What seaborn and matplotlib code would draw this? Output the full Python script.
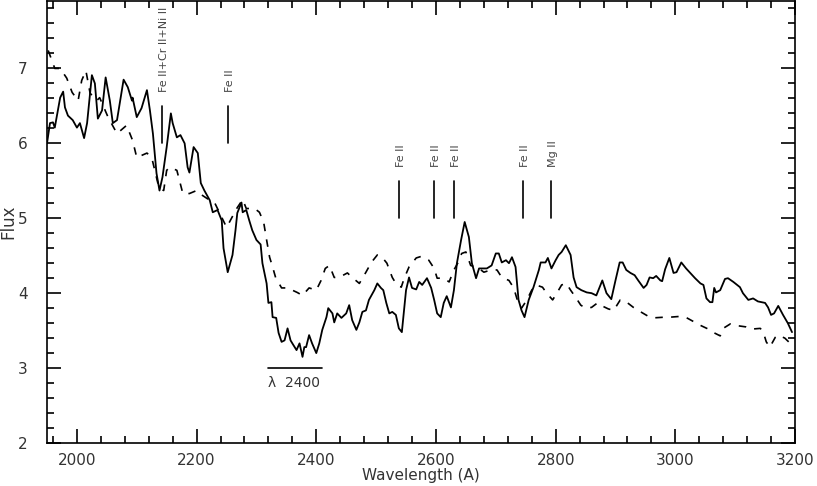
import matplotlib
matplotlib.use("Agg")
import matplotlib.pyplot as plt
import seaborn as sns
import pandas as pd
from matplotlib.ticker import MultipleLocator

# solid spectrum
wave_a = [1950, 1955, 1960, 1963, 1972, 1977, 1980, 1985, 1993, 2000, 2005, 2012, 2017, 2025, 2030,
          2035, 2042, 2048, 2055, 2060, 2067, 2078, 2085, 2092, 2093, 2100, 2108, 2117, 2122, 2127,
          2133, 2138, 2143, 2150, 2157, 2160, 2167, 2173, 2180, 2185, 2188, 2195, 2202, 2207, 2213,
          2222, 2227, 2235, 2242, 2245, 2252, 2260, 2265, 2268, 2275, 2277, 2283, 2288, 2293, 2300,
          2307, 2310, 2317, 2320, 2325, 2327, 2333, 2337, 2342, 2347, 2352, 2357, 2360, 2367, 2372,
          2377, 2380, 2383, 2388, 2393, 2400, 2405, 2410, 2417, 2420, 2427, 2430, 2435, 2442, 2450,
          2455, 2460, 2467, 2472, 2477, 2483, 2488, 2497, 2502, 2508, 2512, 2517, 2522, 2527, 2533,
          2538, 2543, 2550, 2555, 2560, 2567, 2572, 2577, 2585, 2592, 2597, 2602, 2608, 2613, 2618,
          2625, 2630, 2635, 2642, 2648, 2655, 2660, 2667, 2672, 2677, 2685, 2693, 2700, 2705, 2710,
          2717, 2722, 2727, 2733, 2738, 2743, 2748, 2755, 2763, 2772, 2775, 2783, 2787, 2793, 2800,
          2805, 2810, 2817, 2825, 2830, 2835, 2843, 2852, 2860, 2868, 2878, 2885, 2893, 2900, 2907,
          2912, 2918, 2925, 2932, 2938, 2947, 2952, 2957, 2963, 2968, 2975, 2978, 2983, 2990, 2997,
          3002, 3010, 3018, 3025, 3033, 3042, 3047, 3052, 3058, 3062, 3065, 3068, 3075, 3083, 3088,
          3097, 3108, 3113, 3122, 3130, 3138, 3150, 3155, 3160, 3165, 3172, 3180, 3188, 3195]
flux_a = [6.00, 6.27, 6.28, 6.21, 6.61, 6.69, 6.48, 6.37, 6.31, 6.21, 6.27, 6.07, 6.27, 6.91, 6.80,
          6.33, 6.44, 6.88, 6.57, 6.27, 6.31, 6.85, 6.75, 6.57, 6.61, 6.35, 6.47, 6.71, 6.44, 6.13,
          5.60, 5.37, 5.55, 5.95, 6.40, 6.27, 6.08, 6.11, 6.00, 5.68, 5.61, 5.95, 5.87, 5.47, 5.37,
          5.24, 5.08, 5.11, 4.97, 4.60, 4.28, 4.51, 4.84, 5.07, 5.21, 5.08, 5.11, 4.97, 4.84, 4.71,
          4.65, 4.40, 4.13, 3.87, 3.88, 3.68, 3.67, 3.47, 3.35, 3.37, 3.53, 3.37, 3.33, 3.24, 3.33,
          3.15, 3.28, 3.28, 3.44, 3.33, 3.20, 3.33, 3.51, 3.68, 3.80, 3.73, 3.61, 3.73, 3.67, 3.73,
          3.84, 3.64, 3.51, 3.61, 3.75, 3.77, 3.91, 4.04, 4.13, 4.07, 4.04, 3.87, 3.73, 3.75, 3.71,
          3.53, 3.48, 4.04, 4.21, 4.07, 4.05, 4.15, 4.11, 4.20, 4.07, 3.91, 3.73, 3.68, 3.87, 3.96,
          3.81, 4.04, 4.40, 4.71, 4.95, 4.75, 4.40, 4.20, 4.33, 4.33, 4.33, 4.37, 4.53, 4.53, 4.41,
          4.44, 4.40, 4.48, 4.35, 3.91, 3.77, 3.68, 3.91, 4.08, 4.31, 4.41, 4.41, 4.47, 4.33, 4.44,
          4.51, 4.55, 4.64, 4.51, 4.21, 4.08, 4.04, 4.01, 4.00, 3.97, 4.17, 4.00, 3.92, 4.17, 4.41,
          4.41, 4.31, 4.27, 4.24, 4.17, 4.07, 4.11, 4.21, 4.20, 4.23, 4.17, 4.16, 4.32, 4.47, 4.27,
          4.28, 4.41, 4.33, 4.27, 4.20, 4.13, 4.11, 3.93, 3.88, 3.88, 4.07, 4.01, 4.04, 4.19, 4.20,
          4.15, 4.08, 4.00, 3.91, 3.93, 3.89, 3.87, 3.81, 3.71, 3.73, 3.83, 3.71, 3.60, 3.48]

# dashed spectrum
wave_b = [1952, 1963, 1972, 1983, 1992, 2002, 2008, 2015, 2022, 2033, 2038, 2052, 2067, 2083, 2093,
          2100, 2117, 2125, 2137, 2145, 2150, 2155, 2167, 2177, 2188, 2200, 2205, 2222, 2230, 2250,
          2255, 2267, 2277, 2283, 2297, 2305, 2312, 2317, 2322, 2327, 2332, 2342, 2352, 2368, 2377,
          2388, 2400, 2408, 2415, 2422, 2430, 2438, 2452, 2460, 2472, 2483, 2492, 2502, 2510, 2518,
          2527, 2533, 2542, 2547, 2555, 2567, 2575, 2588, 2597, 2602, 2613, 2622, 2630, 2637, 2643,
          2650, 2658, 2672, 2680, 2692, 2702, 2710, 2722, 2730, 2737, 2743, 2752, 2760, 2767, 2778,
          2785, 2795, 2802, 2810, 2818, 2825, 2833, 2842, 2850, 2860, 2870, 2875, 2888, 2897, 2908,
          2917, 2930, 2938, 2955, 2963, 2983, 2992, 3008, 3017, 3033, 3042, 3058, 3065, 3075, 3080,
          3092, 3100, 3118, 3127, 3142, 3147, 3152, 3158, 3167, 3172, 3183, 3192, 3197]
flux_b = [7.24, 7.00, 7.00, 6.87, 6.68, 6.57, 6.84, 6.97, 6.67, 6.57, 6.61, 6.35, 6.13, 6.24, 6.04,
          5.81, 5.87, 5.81, 5.41, 5.37, 5.64, 5.68, 5.64, 5.33, 5.33, 5.37, 5.33, 5.24, 5.21, 4.88,
          4.95, 5.13, 5.25, 5.13, 5.13, 5.08, 4.95, 4.71, 4.48, 4.35, 4.21, 4.07, 4.07, 4.01, 3.97,
          4.07, 4.04, 4.17, 4.33, 4.37, 4.21, 4.21, 4.27, 4.21, 4.13, 4.28, 4.41, 4.51, 4.48, 4.40,
          4.21, 4.13, 4.08, 4.20, 4.35, 4.47, 4.49, 4.44, 4.33, 4.20, 4.20, 4.15, 4.31, 4.41, 4.53,
          4.55, 4.37, 4.33, 4.28, 4.31, 4.31, 4.21, 4.17, 4.07, 3.88, 3.80, 3.91, 4.04, 4.11, 4.08,
          4.00, 3.91, 4.00, 4.11, 4.13, 4.04, 3.95, 3.84, 3.80, 3.81, 3.87, 3.84, 3.79, 3.77, 3.91,
          3.89, 3.81, 3.77, 3.69, 3.67, 3.68, 3.68, 3.69, 3.68, 3.61, 3.57, 3.51, 3.47, 3.43, 3.53,
          3.59, 3.57, 3.55, 3.52, 3.53, 3.48, 3.35, 3.28, 3.41, 3.44, 3.40, 3.33, 3.31]

# line identifications: wavelength, label, bar bottom
line_waves = [2142, 2252, 2538, 2597, 2630, 2745, 2792]
line_labels = ["Fe II+Cr II+Ni II", "Fe II", "Fe II", "Fe II", "Fe II", "Fe II", "Mg II"]
line_base = [6.0, 6.0, 5.0, 5.0, 5.0, 5.0, 5.0]

band_lo, band_hi, band_flux = 2320, 2410, 3.0

sns.set_style("ticks")
plt.rcParams["font.family"] = ["DejaVu Sans"]

df_a = pd.DataFrame({"wave": wave_a, "flux": flux_a})
df_b = pd.DataFrame({"wave": wave_b, "flux": flux_b})

fig = plt.figure(figsize=(8.17, 4.86), dpi=100)
ax = fig.add_axes([47 / 817, 43 / 486, 748 / 817, 442 / 486])

sns.lineplot(data=df_a, x="wave", y="flux", ax=ax, color="black", lw=1.3, sort=False)
sns.lineplot(data=df_b, x="wave", y="flux", ax=ax, color="black", lw=1.2, sort=False,
             linestyle=(0, (4.5, 5)))

for w, lab, b in zip(line_waves, line_labels, line_base):
    ax.plot([w, w], [b, b + 0.5], color="black", lw=1.2)
    ax.text(w + 3, b + 0.68, lab, rotation=90, ha="center", va="bottom",
            fontsize=8, color="#444444")

ax.plot([band_lo, band_hi], [band_flux, band_flux], color="black", lw=1.2)
ax.text(band_lo, band_flux - 0.2, "λ  2400", ha="left", va="center", fontsize=10, color="#333333")

ax.set_xlim(1950, 3200)
ax.set_ylim(2, 7.9)
ax.xaxis.set_major_locator(MultipleLocator(200))
ax.xaxis.set_minor_locator(MultipleLocator(40))
ax.yaxis.set_major_locator(MultipleLocator(1))
ax.yaxis.set_minor_locator(MultipleLocator(0.2))
ax.tick_params(which="both", direction="in", top=True, right=True, width=1.2, colors="black",
               labelcolor="#333333", labelsize=11)
ax.tick_params(which="major", length=10)
ax.tick_params(which="minor", length=5)
ax.tick_params(axis="x", pad=7)
ax.tick_params(axis="y", pad=14)
for sp in ax.spines.values():
    sp.set_linewidth(1.2)
    sp.set_color("black")

ax.set_xlabel("Wavelength (A)", fontsize=11, color="#333333", labelpad=0)
ax.set_ylabel("Flux", fontsize=12, color="#333333", labelpad=0)

fig.savefig("out.png", dpi=100)
